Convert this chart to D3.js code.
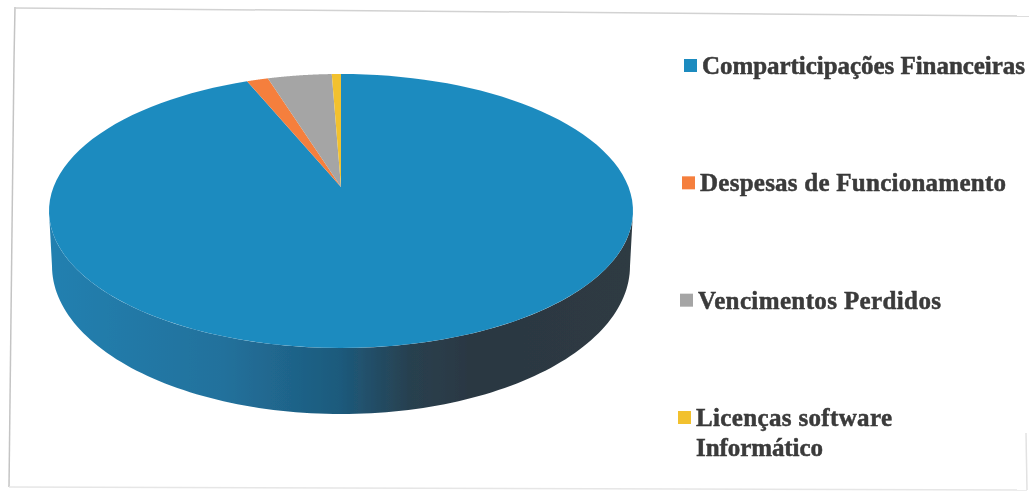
<!DOCTYPE html>
<html>
<head>
<meta charset="utf-8">
<script src="https://cdnjs.cloudflare.com/ajax/libs/d3/7.8.5/d3.min.js"></script>
<style>
  body { margin: 0; background: #fff; }
  .legend-label { font-family: "Liberation Serif", serif; font-weight: bold; font-size: 25px; fill: #3a3a3a; stroke: #3a3a3a; stroke-width: 0.5px; }
</style>
</head>
<body>
<div id="chart"></div>
<script>
const categories = ["Comparticipações Financeiras", "Despesas de Funcionamento", "Vencimentos Perdidos", "Licenças software Informático"];
const shares = [93.8, 1.4, 4.2, 0.6];
const colors = ["#1f8bbf", "#f57f3c", "#a5a5a5", "#f2c12e"];
const labelLines = [["Comparticipações Financeiras"], ["Despesas de Funcionamento"], ["Vencimentos Perdidos"], ["Licenças software", "Informático"]];
// widths the scanned labels take up on the page
const labelWidths = [[323], [306], [243], [196, 127]];

const width = 1029, height = 493;

// pie geometry, the disc is seen in perspective so the apex sits above the middle of the ellipse
const cx = 341, apexY = 187, radiusX = 287.5, radiusY = 132.8, tilt = 0.175;
// rim of the underside, measured as an ellipse on the picture
const rimY = 266, rimRx = 289, rimRy = 148;

const svg = d3.select("#chart").append("svg")
  .attr("width", width)
  .attr("height", height)
  .style("display", "block");

const defs = svg.append("defs");
defs.append("filter").attr("id", "soft")
  .attr("filterUnits", "userSpaceOnUse")
  .attr("x", 0).attr("y", 0).attr("width", width).attr("height", height)
  .append("feGaussianBlur").attr("stdDeviation", 0.6);

const page = svg.append("g").attr("filter", "url(#soft)");

// chart frame, skewed like the scan
const frame = [
  [15, 7, 14, 60, "#c4c4c4"], [14, 60, 9, 487, "#c4c4c4"],
  [15, 8, 1029, 16, "#d2d2d2"],
  [9, 487, 1027, 490, "#e6e6e6"], [1027, 490, 1026, 433, "#e2e2e2"]
];
page.selectAll(".frame")
  .data(frame)
  .enter().append("line")
  .attr("class", "frame")
  .attr("x1", d => d[0]).attr("y1", d => d[1])
  .attr("x2", d => d[2]).attr("y2", d => d[3])
  .attr("stroke", d => d[4])
  .attr("stroke-width", 1.5);

// angle (clockwise from 12 o'clock) to screen position
const project = a => {
  const u = Math.sin(a), v = Math.cos(a), w = 1 + tilt * v;
  return [cx + radiusX * u / w, apexY - radiusY * v / w];
};
const rim = a => [cx + rimRx * Math.sin(a), rimY - rimRy * Math.cos(a)];

const line = d3.line();
const arcPoints = (a0, a1, f = project) => d3.range(0, 121).map(i => f(a0 + (a1 - a0) * i / 120));

// side wall
const wallGrad = defs.append("linearGradient")
  .attr("id", "wall")
  .attr("gradientUnits", "userSpaceOnUse")
  .attr("x1", 48).attr("x2", 632).attr("y1", 0).attr("y2", 0);
[[0, "#2280b0"], [0.3, "#22719c"], [0.5, "#1d5a7c"], [0.62, "#28404f"], [0.72, "#2b3843"], [1, "#2e3a42"]]
  .forEach(d => wallGrad.append("stop").attr("offset", d[0]).attr("stop-color", d[1]));

const edge = Math.acos(-tilt);
page.append("path")
  .attr("d", line(arcPoints(edge, 2 * Math.PI - edge).concat(arcPoints(1.5 * Math.PI, 0.5 * Math.PI, rim))) + "Z")
  .attr("fill", "url(#wall)");

// top face
const pie = d3.pie().sort(null);
page.selectAll(".slice")
  .data(pie(shares))
  .enter().append("path")
  .attr("class", "slice")
  .attr("d", d => line([[cx, apexY]].concat(arcPoints(d.startAngle, d.endAngle))) + "Z")
  .attr("fill", (d, i) => colors[i]);

// legend, the scan is slightly skewed so rows drift left going down
const legendX = d3.scaleLinear().domain([0, 3]).range([702, 696]);
const legendY = d3.scaleLinear().domain([0, 3]).range([74, 426]);

const legend = page.selectAll(".legend")
  .data(categories)
  .enter().append("g")
  .attr("class", "legend");

legend.append("rect")
  .attr("x", (d, i) => legendX(i) - 18)
  .attr("y", (d, i) => legendY(i) - 15)
  .attr("width", 13)
  .attr("height", 13)
  .attr("fill", (d, i) => colors[i]);

legend.each(function(d, i) {
  d3.select(this).selectAll("text")
    .data(labelLines[i])
    .enter().append("text")
    .attr("class", "legend-label")
    .attr("x", legendX(i))
    .attr("y", (t, j) => legendY(i) + j * 30)
    .attr("textLength", (t, j) => labelWidths[i][j])
    .attr("lengthAdjust", "spacing")
    .text(t => t);
});
</script>
</body>
</html>
